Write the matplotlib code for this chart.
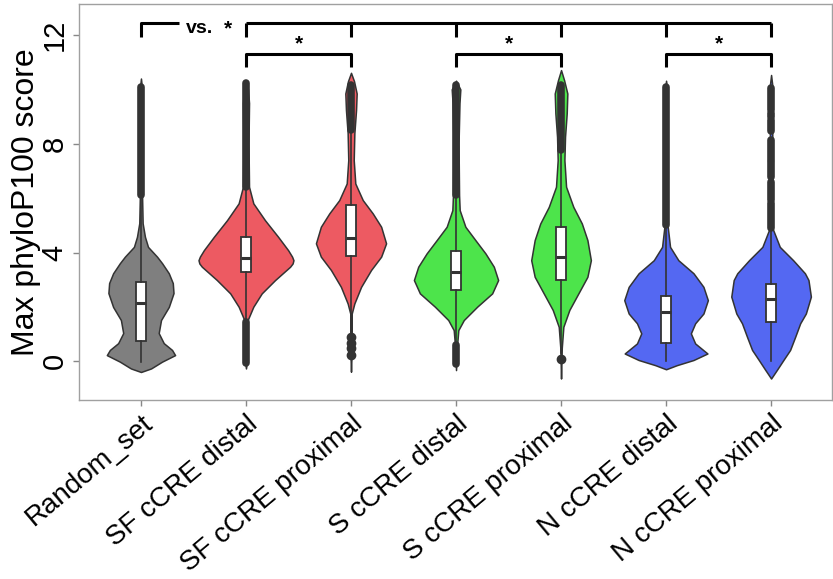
import matplotlib.pyplot as plt
from matplotlib.transforms import ScaledTranslation

plt.rcParams['font.family'] = ['Liberation Sans', 'DejaVu Sans']

categories = ['Random_set', 'SF cCRE distal', 'SF cCRE proximal', 'S cCRE distal',
              'S cCRE proximal', 'N cCRE distal', 'N cCRE proximal']
fill_colors = ['#7F7F7F', '#ED5A62', '#ED5A62', '#4DE44B', '#4DE44B', '#5468F2', '#5468F2']

# violin outlines: score levels and half widths (category units)
violin_y = [
    [-0.39, -0.26, -0.01, 0.23, 0.42, 0.67, 1.04, 1.52, 2.0, 2.51, 2.88, 3.24, 3.61, 3.85, 4.21, 4.58, 5.08, 6.0, 10.0, 10.4],
    [-0.26, 0.0, 1.2, 1.52, 2.01, 2.5, 2.99, 3.48, 3.6, 3.72, 3.85, 4.09, 4.58, 5.19, 5.81, 6.42, 8.0, 9.5, 10.0, 10.32],
    [-0.38, 0.5, 1.76, 2.13, 2.74, 3.36, 3.85, 4.34, 4.95, 5.44, 5.93, 6.54, 7.4, 8.39, 9.24, 9.85, 10.3, 10.61],
    [-0.32, 0.5, 1.15, 1.52, 2.01, 2.5, 2.99, 3.48, 3.97, 4.46, 4.95, 5.56, 6.11, 8.0, 9.5, 10.0, 10.32],
    [-0.63, 0.5, 1.27, 1.89, 2.5, 3.11, 3.72, 4.46, 5.07, 5.68, 6.42, 7.4, 8.26, 9.12, 9.85, 10.34, 10.71],
    [-0.29, -0.14, 0.05, 0.29, 0.66, 1.03, 1.40, 1.76, 2.25, 2.74, 3.24, 3.72, 4.21, 5.01, 10.0, 10.32],
    [-0.63, -0.32, 0.05, 0.42, 0.90, 1.40, 1.76, 2.38, 2.99, 3.24, 3.72, 4.21, 4.89, 10.2, 10.53],
]
violin_hw = [
    [0, .096, .201, .325, .296, .217, .169, .191, .265, .310, .303, .265, .201, .153, .067, .038, .016, .011, .011, 0],
    [0, .010, .011, .016, .070, .150, .277, .420, .444, .452, .439, .401, .306, .181, .070, .029, .024, .029, .019, 0],
    [0, .007, .007, .032, .096, .191, .287, .334, .287, .207, .112, .041, .026, .032, .048, .054, .029, 0],
    [0, .008, .022, .074, .201, .344, .401, .360, .280, .184, .089, .035, .029, .024, .033, .041, 0],
    [0, .007, .022, .079, .165, .251, .284, .251, .198, .117, .048, .032, .038, .054, .060, .029, 0],
    [0, .102, .261, .394, .277, .236, .277, .356, .398, .356, .261, .117, .038, .014, .010, 0],
    [0, .054, .117, .181, .229, .277, .331, .379, .356, .322, .210, .083, .014, .010, 0],
]

# box statistics
q1 = [0.76, 3.27, 3.87, 2.62, 2.99, 0.66, 1.46]
median = [2.13, 3.81, 4.54, 3.29, 3.85, 1.80, 2.28]
q3 = [2.93, 4.56, 5.75, 4.07, 4.95, 2.41, 2.84]
whisker_lo = [-0.01, 1.46, 1.05, 0.65, 0.30, 0.0, 0.0]
whisker_hi = [6.11, 6.42, 8.50, 6.11, 7.77, 5.01, 4.89]

# dense runs of outliers (low, high) and single outliers
outlier_runs = [
    [(6.11, 10.1)],
    [(6.42, 10.23), (-0.07, 1.46)],
    [(8.5, 10.16)],
    [(6.11, 10.16), (-0.1, 0.6)],
    [(7.77, 10.16)],
    [(5.01, 10.1)],
    [(9.23, 10.04), (8.97, 9.14), (8.48, 8.87), (7.40, 8.14), (6.79, 7.34), (5.93, 6.60), (4.89, 5.81)],
]
outlier_points = [[], [], [0.23, 0.48, 0.66, 0.90], [], [0.07], [], []]

# significance brackets
pairs = [(2, 3), (4, 5), (6, 7)]
pair_y = 11.32
group_y = 12.43
tick_drop = 0.5

fig = plt.figure(figsize=(8.33, 5.79), dpi=100)
ax = fig.add_axes([79 / 833, 179 / 579, 753 / 833, 396 / 579])

dark = '#333333'
for i in range(len(categories)):
    pos = i + 1
    ys = violin_y[i]
    left = [pos - w for w in violin_hw[i]]
    right = [pos + w for w in violin_hw[i]]
    ax.fill_betweenx(ys, left, right, facecolor=fill_colors[i], edgecolor=dark,
                     linewidth=1.1, zorder=2)
    for lo, hi in outlier_runs[i]:
        ax.plot([pos, pos], [lo, hi], color=dark, lw=5.5, solid_capstyle='round', zorder=3)
    if outlier_points[i]:
        ax.plot([pos] * len(outlier_points[i]), outlier_points[i], 'o', color=dark,
                ms=6, zorder=3)

stats = []
for i in range(len(categories)):
    stats.append({'med': median[i], 'q1': q1[i], 'q3': q3[i],
                  'whislo': whisker_lo[i], 'whishi': whisker_hi[i], 'fliers': []})
ax.bxp(stats, positions=range(1, len(categories) + 1), widths=0.1, patch_artist=True,
       showcaps=False, manage_ticks=False, zorder=4,
       boxprops=dict(facecolor='white', edgecolor=dark, linewidth=1.3),
       medianprops=dict(color=dark, linewidth=2.2),
       whiskerprops=dict(color=dark, linewidth=1.2))

# brackets
bk = dict(color='black', lw=2.2, solid_capstyle='butt', zorder=5)
for a, b in pairs:
    ax.plot([a, a, b, b], [pair_y - tick_drop, pair_y, pair_y, pair_y - tick_drop], **bk)
    ax.text((a + b) / 2, pair_y + 0.02, '*', ha='center', va='bottom', fontsize=15,
            fontweight='bold')
ax.plot([1, 1, 1.36], [group_y - tick_drop, group_y, group_y], **bk)
ax.plot([2, 7], [group_y, group_y], **bk)
for p in range(2, 8):
    ax.plot([p, p], [group_y - tick_drop, group_y], **bk)
ax.text(1.56, group_y - 0.18, 'vs.', ha='center', va='center', fontsize=14, fontweight='bold')
ax.text(1.83, group_y - 0.2, '*', ha='center', va='center', fontsize=15, fontweight='bold')

ax.set_xlim(0.41, 7.58)
ax.set_ylim(-1.42, 13.14)
ax.set_yticks([0, 4, 8, 12])
ax.set_yticklabels(['0', '4', '8', '12'], fontsize=21, rotation=90, va='center')
ax.set_xticks(range(1, len(categories) + 1))
ax.set_xticklabels(categories, fontsize=20, rotation=40, ha='right', rotation_mode='anchor')
shift = ScaledTranslation(12 / 100, -6 / 100, fig.dpi_scale_trans)
for lab in ax.get_xticklabels():
    lab.set_transform(lab.get_transform() + shift)
ax.tick_params(axis='both', color='#888888', length=4, width=1, labelcolor='black')
ax.set_ylabel('Max phyloP100 score', fontsize=23, labelpad=0)
for s in ax.spines.values():
    s.set_color('#A0A0A0')
    s.set_linewidth(1)

fig.savefig('out.png', dpi=100)
